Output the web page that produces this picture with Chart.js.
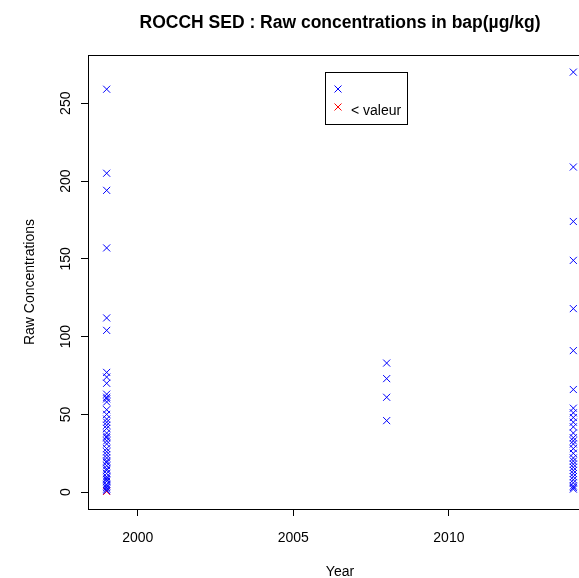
<!DOCTYPE html>
<html>
<head>
<meta charset="utf-8">
<script src="https://cdn.jsdelivr.net/npm/chart.js@4.4.1/dist/chart.umd.min.js"></script>
<style>
  html, body { margin: 0; padding: 0; background: #fff; overflow: hidden; }
  #wrap { width: 579px; height: 578px; overflow: hidden; }
</style>
</head>
<body>
<div id="wrap"><canvas id="bapChart" width="680" height="578"></canvas></div>
<script>
// sampling years and measured values (µg/kg)
const sampleYears = [1999, 2008, 2014];
const values1999 = [259, 205, 194, 157, 112, 104, 77, 74, 70, 63, 61, 60, 58, 53, 50, 47, 45, 43, 41, 38, 36,
  35, 33, 31, 28, 26, 24, 22, 20, 19, 17, 15, 14, 12, 10, 9, 8, 7, 5, 4, 3, 2, 1];
const values2008 = [83, 73, 61, 46];
const values2014 = [270, 209, 174, 149, 118, 91, 66, 54, 51, 48, 45, 42, 38, 35, 33, 31, 28, 25, 22, 20,
  18, 16, 14, 12, 10, 8, 6, 4, 3, 2];
// values below quantification limit
const lowYears = [1999];
const lowValues = [0.5];

const xTicks = [2000, 2005, 2010];
const yTicks = [0, 50, 100, 150, 200, 250];

const valuesByYear = [values1999, values2008, values2014];
let measured = [];
sampleYears.forEach((yr, i) => {
  valuesByYear[i].forEach(v => measured.push({ x: yr, y: v }));
});
const below = lowYears.map((yr, i) => ({ x: yr, y: lowValues[i] }));

const FONT = "'Liberation Sans', Arial, Helvetica, sans-serif";

// box round the plot and the little legend in the top
const boxPlugin = {
  id: 'rbox',
  afterDraw(chart) {
    const { ctx, chartArea: a } = chart;
    ctx.save();
    ctx.strokeStyle = '#000';
    ctx.lineWidth = 1;
    ctx.strokeRect(Math.round(a.left) + 0.5, Math.round(a.top) + 0.5,
      Math.round(a.right - a.left), Math.round(a.bottom - a.top));

    // legend
    const lx = 325.5, ly = 72.5, lw = 82, lh = 52;
    ctx.fillStyle = '#fff';
    ctx.fillRect(lx, ly, lw, lh);
    ctx.strokeRect(lx, ly, lw, lh);
    const cross = (cx, cy, col) => {
      ctx.strokeStyle = col;
      ctx.beginPath();
      ctx.moveTo(cx - 3.5, cy - 3.5); ctx.lineTo(cx + 3.5, cy + 3.5);
      ctx.moveTo(cx + 3.5, cy - 3.5); ctx.lineTo(cx - 3.5, cy + 3.5);
      ctx.stroke();
    };
    cross(338, 89, '#0000ff');
    cross(338, 107, '#ff0000');
    ctx.fillStyle = '#000';
    ctx.font = '14px ' + FONT;
    ctx.textBaseline = 'middle';
    ctx.textAlign = 'left';
    ctx.fillText('< valeur', 351, 111);
    ctx.restore();
  }
};

new Chart(document.getElementById('bapChart').getContext('2d'), {
  type: 'scatter',
  data: {
    datasets: [{
      label: 'mesure',
      data: measured,
      pointStyle: 'crossRot',
      pointRadius: 5,
      borderColor: '#0000ff',
      backgroundColor: '#0000ff',
      borderWidth: 1
    }, {
      label: '< valeur',
      data: below,
      pointStyle: 'crossRot',
      pointRadius: 5,
      borderColor: '#ff0000',
      backgroundColor: '#ff0000',
      borderWidth: 1
    }]
  },
  options: {
    responsive: false,
    animation: false,
    layout: { padding: 0 },
    plugins: {
      legend: { display: false },
      tooltip: { enabled: false },
      title: {
        display: true,
        text: 'ROCCH SED : Raw concentrations in bap(µg/kg)',
        color: '#000',
        font: { family: FONT, size: 17.5, weight: 'bold' },
        padding: { top: 12.5, bottom: 21.5 }
      }
    },
    scales: {
      x: {
        type: 'linear',
        min: 1998.4,
        max: 2014.6,
        afterBuildTicks: s => { s.ticks = xTicks.map(v => ({ value: v })); },
        afterFit: s => { s.height = 69; },
        grid: { display: true, drawOnChartArea: false, drawTicks: true, tickLength: 7, color: '#000' },
        border: { display: true, color: '#000' },
        ticks: { color: '#000', padding: 14, callback: v => String(v), font: { family: FONT, size: 14 } },
        title: { display: true, text: 'Year', color: '#000', font: { family: FONT, size: 14, lineHeight: 0.8 }, padding: { top: 0, bottom: 0 } }
      },
      y: {
        type: 'linear',
        min: -10.8,
        max: 281,
        afterBuildTicks: s => { s.ticks = yTicks.map(v => ({ value: v })); },
        afterFit: s => { s.width = 88; },
        grid: { display: true, drawOnChartArea: false, drawTicks: true, tickLength: 7, color: '#000' },
        border: { display: true, color: '#000' },
        ticks: { color: '#000', padding: 3, minRotation: 90, maxRotation: 90, crossAlign: 'center', callback: v => String(v), font: { family: FONT, size: 14 } },
        title: { display: true, text: 'Raw Concentrations', color: '#000', font: { family: FONT, size: 14 }, padding: { top: 22, bottom: 0 } }
      },
      // empty right margin, so the title stays centred over the plot
      yRight: {
        type: 'linear',
        position: 'right',
        afterFit: s => { s.width = 88; },
        grid: { display: false },
        border: { display: false },
        ticks: { display: false }
      }
    }
  },
  plugins: [boxPlugin]
});
</script>
</body>
</html>
